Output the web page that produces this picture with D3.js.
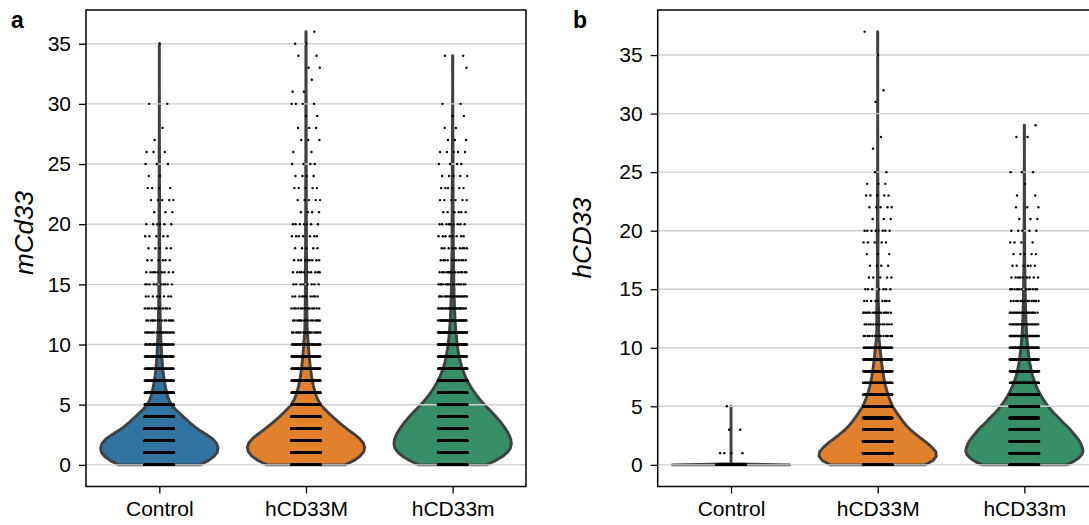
<!DOCTYPE html>
<meta charset="utf-8">
<style>
  body { margin: 0; background: #fff; }
  text { font-family: "Liberation Sans", Arial, sans-serif; fill: #000; }
</style>
<svg id="chart" width="1089" height="525"></svg>
<script src="https://cdn.jsdelivr.net/npm/d3@7/dist/d3.min.js"></script>
<script>
var groups = ["Control", "hCD33M", "hCD33m"]
var colors = ["#3274a1", "#e1812c", "#368f67"]
var yTicks = [0, 5, 10, 15, 20, 25, 30, 35]

// number of cells at each integer expression level (index = level)
var mCd33Control = [750, 1000, 970, 600, 400, 170, 120, 80, 55, 40, 30, 20, 15, 12, 8, 10, 9, 6, 5, 5, 6, 3, 5, 4, 2, 3, 3, 1, 1, 0, 2, 0, 0, 0, 0, 1]
var mCd33M = [720, 980, 960, 620, 430, 200, 140, 98, 70, 50, 38, 18, 15, 14, 10, 8, 10, 9, 5, 7, 7, 4, 5, 5, 4, 4, 2, 3, 3, 2, 4, 2, 1, 2, 2, 2, 1]
var mCd33m = [500, 800, 820, 720, 600, 420, 290, 190, 125, 85, 60, 44, 32, 25, 20, 16, 14, 11, 9, 8, 9, 6, 6, 6, 5, 4, 5, 3, 2, 2, 2, 0, 0, 1, 2]

var hCD33Control = [2000, 4, 0, 2, 0, 1]
var hCD33M = [900, 1000, 760, 500, 360, 230, 160, 110, 80, 55, 38, 14, 13, 18, 9, 7, 5, 4, 3, 5, 8, 3, 5, 5, 3, 2, 0, 1, 1, 0, 0, 1, 1, 0, 0, 1, 0, 1]
var hCD33m = [700, 900, 820, 680, 500, 340, 230, 150, 100, 70, 50, 35, 25, 20, 15, 12, 9, 6, 5, 4, 5, 3, 3, 2, 1, 3, 0, 0, 2, 1]

var svg = d3.select("#chart")

// gaussian kde with scott bandwidth, evaluated from min to max (cut = 0)
function kde(counts) {
  var n = d3.sum(counts)
  var mean = d3.sum(counts, (c, k) => c * k) / n
  var sd = Math.sqrt(d3.sum(counts, (c, k) => c * (k - mean) * (k - mean)) / (n - 1))
  var bw = sd * Math.pow(n, -0.2)
  var lo = counts.findIndex(c => c > 0)
  var hi = counts.length - 1
  while (counts[hi] == 0) hi--
  var grid = d3.range(100).map(i => lo + (hi - lo) * i / 99)
  var dens = grid.map(v => d3.sum(counts, (c, k) => c * Math.exp(-0.5 * Math.pow((v - k) / bw, 2))))
  var m = d3.max(dens)
  return grid.map((v, i) => ({v: v, d: dens[i] / m}))
}

function panel(opts) {
  var x0 = opts.left, x1 = opts.left + 440, y0 = 10, y1 = 486.5
  var ymax = d3.max(opts.data, c => c.length - 1)
  var pad = ymax * 0.05

  var x = d3.scaleLinear().domain([-0.5, 2.5]).range([x0, x1])
  var y = d3.scaleLinear().domain([-pad, ymax + pad]).range([y1, y0])
  var unit = x(1) - x(0)

  var g = svg.append("g")

  // violins
  var area = d3.area()
    .y(d => y(d.v))
    .x0(d => x(d.i) - d.d * 0.4 * unit)
    .x1(d => x(d.i) + d.d * 0.4 * unit)

  opts.data.forEach(function(counts, i) {
    var pts = kde(counts).map(p => ({v: p.v, d: p.d, i: i}))
    g.append("path")
      .attr("d", area(pts) + "Z")
      .attr("fill", colors[i])
      .attr("stroke", "#404040")
      .attr("stroke-width", 2.9)
      .attr("stroke-linejoin", "round")
  })

  // grid
  g.append("g").selectAll("line")
    .data(yTicks)
    .enter().append("line")
    .attr("x1", x0).attr("x2", x1)
    .attr("y1", d => y(d)).attr("y2", d => y(d))
    .attr("stroke", "#cfcfcf")
    .attr("stroke-width", 1.4)

  // strip points
  opts.data.forEach(function(counts, i) {
    var dots = []
    counts.forEach(function(c, k) {
      for (var j = 0; j < c; j++) {
        var f = (j * 0.6180339887 + k * 0.2718) % 1
        dots.push({x: i + (f * 2 - 1) * 0.1, y: k})
      }
    })
    g.append("g").selectAll("circle")
      .data(dots)
      .enter().append("circle")
      .attr("cx", d => x(d.x))
      .attr("cy", d => y(d.y))
      .attr("r", 1.2)
      .attr("fill", "#000")
  })

  // axes
  var ya = g.append("g")
    .attr("transform", "translate(" + x0 + ",0)")
    .call(d3.axisLeft(y).tickValues(yTicks).tickSize(7).tickPadding(8))
  var xa = g.append("g")
    .attr("transform", "translate(0," + y1 + ")")
    .call(d3.axisBottom(x).tickValues([0, 1, 2]).tickFormat(d => groups[d]).tickSize(7).tickPadding(8))
  ;[ya, xa].forEach(function(a) {
    a.select(".domain").remove()
    a.selectAll("line").attr("stroke", "#000").attr("stroke-width", 1.3)
    a.selectAll("text").style("font-size", "21px").attr("fill", "#111")
  })

  g.append("rect")
    .attr("x", x0).attr("y", y0)
    .attr("width", x1 - x0).attr("height", y1 - y0)
    .attr("fill", "none")
    .attr("stroke", "#000")
    .attr("stroke-width", 1.5)

  g.append("text")
    .attr("transform", "translate(" + opts.labelX + "," + opts.labelY + ") rotate(-90)")
    .attr("text-anchor", "middle")
    .style("font-size", "26px")
    .style("font-style", "italic")
    .text(opts.ylabel)

  g.append("text")
    .attr("x", opts.letterX).attr("y", 28)
    .style("font-size", "23px")
    .style("font-weight", "bold")
    .text(opts.letter)
}

panel({left: 86, data: [mCd33Control, mCd33M, mCd33m], ylabel: "mCd33", labelX: 33, labelY: 233, letter: "a", letterX: 11})
panel({left: 657.7, data: [hCD33Control, hCD33M, hCD33m], ylabel: "hCD33", labelX: 591, labelY: 238, letter: "b", letterX: 573})
</script>
